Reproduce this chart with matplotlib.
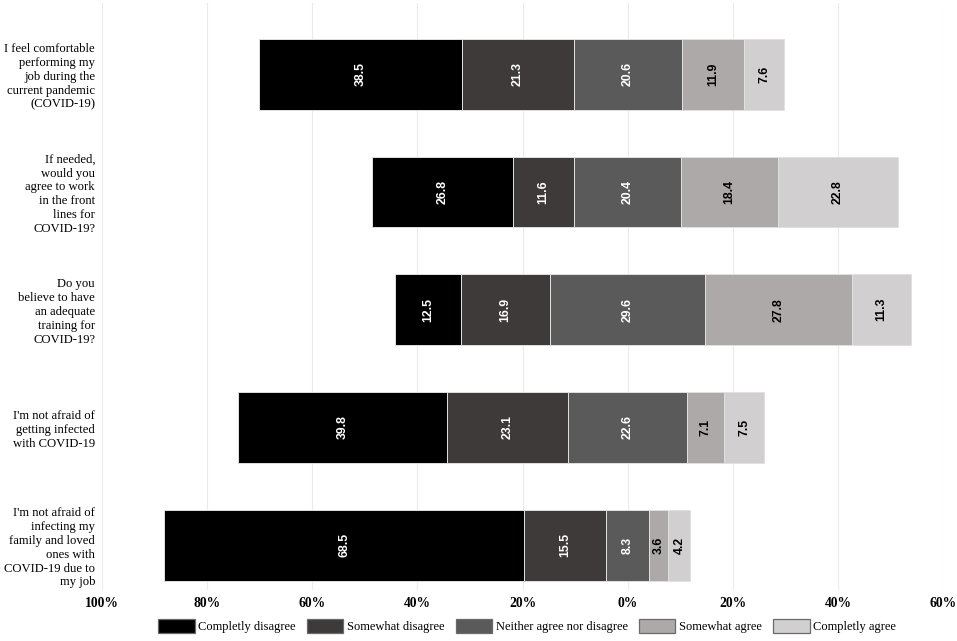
"""Diverging stacked bars of COVID-19 attitude answers."""

import matplotlib
matplotlib.use("Agg")
import matplotlib.pyplot as plt
from matplotlib.patches import Patch
from matplotlib.ticker import FixedLocator, FuncFormatter

questions = [
    "I feel comfortable\nperforming my\njob during the\ncurrent pandemic\n(COVID-19)",
    "If needed,\nwould you\nagree to work\nin the front\nlines for\nCOVID-19?",
    "Do you\nbelieve to have\nan adequate\ntraining for\nCOVID-19?",
    "I'm not afraid of\ngetting infected\nwith COVID-19",
    "I'm not afraid of\ninfecting my\nfamily and loved\nones with\nCOVID-19 due to\nmy job",
]
answers = [
    "Completly disagree",
    "Somewhat disagree",
    "Neither agree nor disagree",
    "Somewhat agree",
    "Completly agree",
]
completely_disagree = [38.5, 26.8, 12.5, 39.8, 68.5]
somewhat_disagree = [21.3, 11.6, 16.9, 23.1, 15.5]
neutral = [20.6, 20.4, 29.6, 22.6, 8.3]
somewhat_agree = [11.9, 18.4, 27.8, 7.1, 3.6]
completely_agree = [7.6, 22.8, 11.3, 7.5, 4.2]
x_ticks = [-100, -80, -60, -40, -20, 0, 20, 40, 60]

colors = ["#000000", "#3d3a39", "#5a5a5a", "#ada9a8", "#d1cfd0"]
text_colors = ["white", "white", "white", "black", "black"]

SERIF = ["Liberation Serif", "DejaVu Serif"]


def main() -> None:
    fig = plt.figure(figsize=(9.57, 6.41), dpi=100)
    ax = fig.add_axes([0.1066, 0.0796, 0.8788, 0.9154])

    series = [completely_disagree, somewhat_disagree, neutral, somewhat_agree, completely_agree]
    ys = list(range(len(questions)))
    for i, y in enumerate(ys):
        # neutral centred on zero, disagree stacked to the left
        left = -neutral[i] / 2 - somewhat_disagree[i] - completely_disagree[i]
        for k, s in enumerate(series):
            v = s[i]
            ax.barh(y, v, left=left, height=0.6, color=colors[k],
                    edgecolor="#e0e0e0", linewidth=0.7, zorder=2)
            ax.text(left + v / 2, y, f"{v:.1f}", rotation=90, ha="center", va="center",
                    color=text_colors[k], fontsize=8.8, fontweight="bold",
                    family=["Liberation Sans Narrow", "Liberation Sans", "DejaVu Sans"], zorder=3)
            left += v

    ax.set_xlim(-100, 60)
    ax.set_ylim(4.38, -0.603)
    ax.xaxis.set_major_locator(FixedLocator(x_ticks))
    ax.xaxis.set_major_formatter(FuncFormatter(lambda v, _: f"{abs(v):.0f}%"))
    ax.grid(axis="x", color="#ebebeb", linewidth=0.8, zorder=0)
    ax.set_axisbelow(True)
    ax.set_yticks(ys)
    ax.set_yticklabels(questions, family=SERIF, fontsize=9.1, linespacing=1.21)
    ax.tick_params(axis="y", length=0, pad=5)
    ax.tick_params(axis="x", length=0, pad=5)
    for lab in ax.get_xticklabels():
        lab.set_family(SERIF)
        lab.set_fontweight("bold")
        lab.set_fontsize(9.8)
    for sp in ax.spines.values():
        sp.set_visible(False)

    handles = [Patch(facecolor=c, edgecolor="#6a6a6a", linewidth=0.9) for c in colors]
    fig.legend(handles, answers, loc="center", bbox_to_anchor=(0.551, 0.023), ncol=5,
               frameon=False, prop={"family": SERIF, "size": 9},
               handlelength=2.9, handleheight=1.3, handletextpad=0.3, columnspacing=0.9,
               borderaxespad=0)

    fig.savefig("out.png", dpi=100)
    plt.close(fig)


if __name__ == "__main__":
    main()
